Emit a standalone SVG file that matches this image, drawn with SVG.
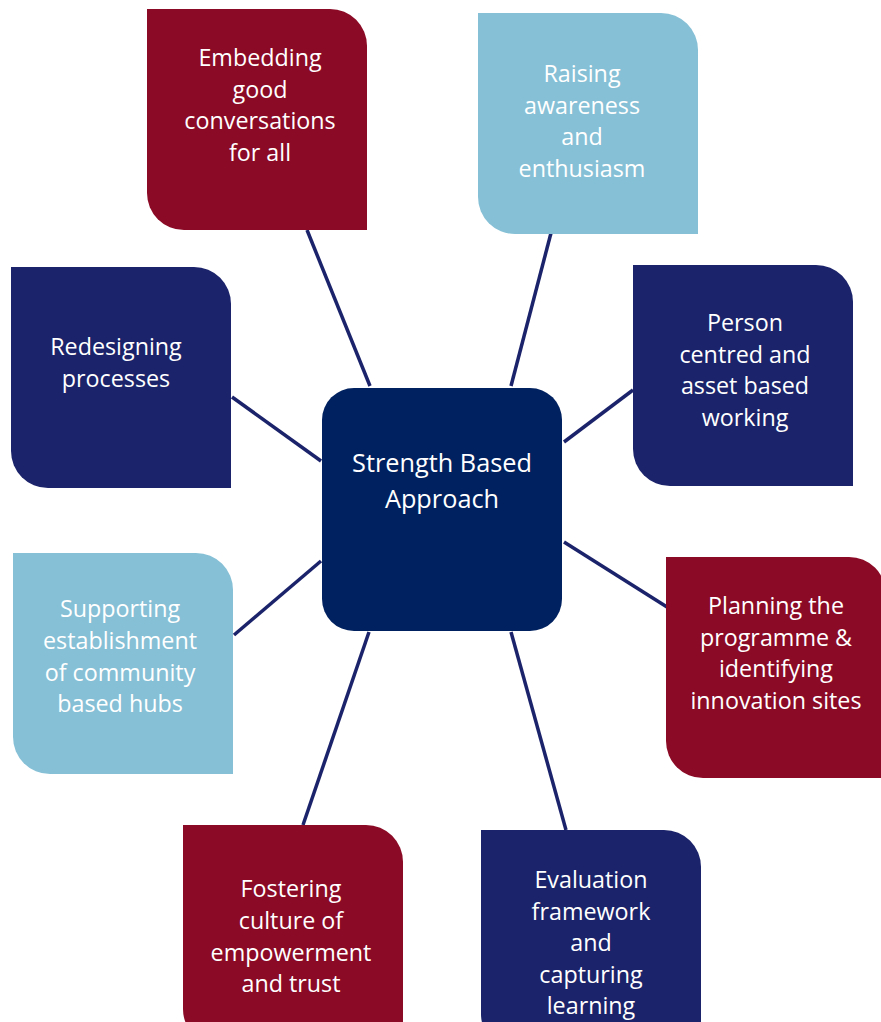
<svg xmlns="http://www.w3.org/2000/svg" width="881" height="1022" viewBox="0 0 881 1022">
<style>
.red{fill:#8B0A25}.blue{fill:#86C0D6}.navy{fill:#1B236A}
.t{font-family:"Open Sans","Liberation Sans",sans-serif;font-size:23.3px;fill:#fff;text-anchor:middle}
.c{font-family:"Open Sans","Liberation Sans",sans-serif;font-size:25.3px;fill:#fff;text-anchor:middle}
.ln{stroke:#1B236A;stroke-width:3.5;fill:none;stroke-linecap:butt}
</style>
<defs>
<path id="leaf" d="M0,0 H183 A37,37 0 0 1 220,37 V221 H37 A37,37 0 0 1 0,184 Z"/>
</defs>
<g id="connectors">
<line class="ln" x1="307" y1="230" x2="370" y2="386"/>
<line class="ln" x1="551" y1="233" x2="511" y2="386"/>
<line class="ln" x1="232" y1="397" x2="321" y2="461"/>
<line class="ln" x1="633" y1="390" x2="564" y2="442"/>
<line class="ln" x1="234" y1="635" x2="321" y2="561"/>
<line class="ln" x1="564" y1="542" x2="667" y2="607"/>
<line class="ln" x1="303" y1="825" x2="369" y2="632"/>
<line class="ln" x1="566" y1="830" x2="511" y2="632"/>
</g>
<g id="center">
<rect x="322" y="388" width="240" height="243" rx="32" fill="#00215F"/>
<text class="c" x="442" y="472">Strength Based</text>
<text class="c" x="442" y="508">Approach</text>
</g>
<g id="n1">
<use href="#leaf" class="red" x="147" y="9"/>
<text class="t" x="260" y="66">Embedding</text>
<text class="t" x="260" y="98">good</text>
<text class="t" x="260" y="129">conversations</text>
<text class="t" x="260" y="161">for all</text>
</g>
<g id="n2">
<use href="#leaf" class="blue" x="478" y="13"/>
<text class="t" x="582" y="82">Raising</text>
<text class="t" x="582" y="114">awareness</text>
<text class="t" x="582" y="145">and</text>
<text class="t" x="582" y="177">enthusiasm</text>
</g>
<g id="n3">
<use href="#leaf" class="navy" x="11" y="267"/>
<text class="t" x="116" y="355">Redesigning</text>
<text class="t" x="116" y="387">processes</text>
</g>
<g id="n4">
<use href="#leaf" class="navy" x="633" y="265"/>
<text class="t" x="745" y="331">Person</text>
<text class="t" x="745" y="363">centred and</text>
<text class="t" x="745" y="394">asset based</text>
<text class="t" x="745" y="426">working</text>
</g>
<g id="n5">
<use href="#leaf" class="blue" x="13" y="553"/>
<text class="t" x="120" y="617">Supporting</text>
<text class="t" x="120" y="649">establishment</text>
<text class="t" x="120" y="681">of community</text>
<text class="t" x="120" y="712">based hubs</text>
</g>
<g id="n6">
<use href="#leaf" class="red" x="666" y="557"/>
<text class="t" x="776" y="614">Planning the</text>
<text class="t" x="776" y="646">programme &amp;</text>
<text class="t" x="776" y="677">identifying</text>
<text class="t" x="776" y="709">innovation sites</text>
</g>
<g id="n7">
<use href="#leaf" class="red" x="183" y="825"/>
<text class="t" x="291" y="897">Fostering</text>
<text class="t" x="291" y="929">culture of</text>
<text class="t" x="291" y="961">empowerment</text>
<text class="t" x="291" y="992">and trust</text>
</g>
<g id="n8">
<use href="#leaf" class="navy" x="481" y="830"/>
<text class="t" x="591" y="888">Evaluation</text>
<text class="t" x="591" y="920">framework</text>
<text class="t" x="591" y="951">and</text>
<text class="t" x="591" y="983">capturing</text>
<text class="t" x="591" y="1014">learning</text>
</g>
</svg>
